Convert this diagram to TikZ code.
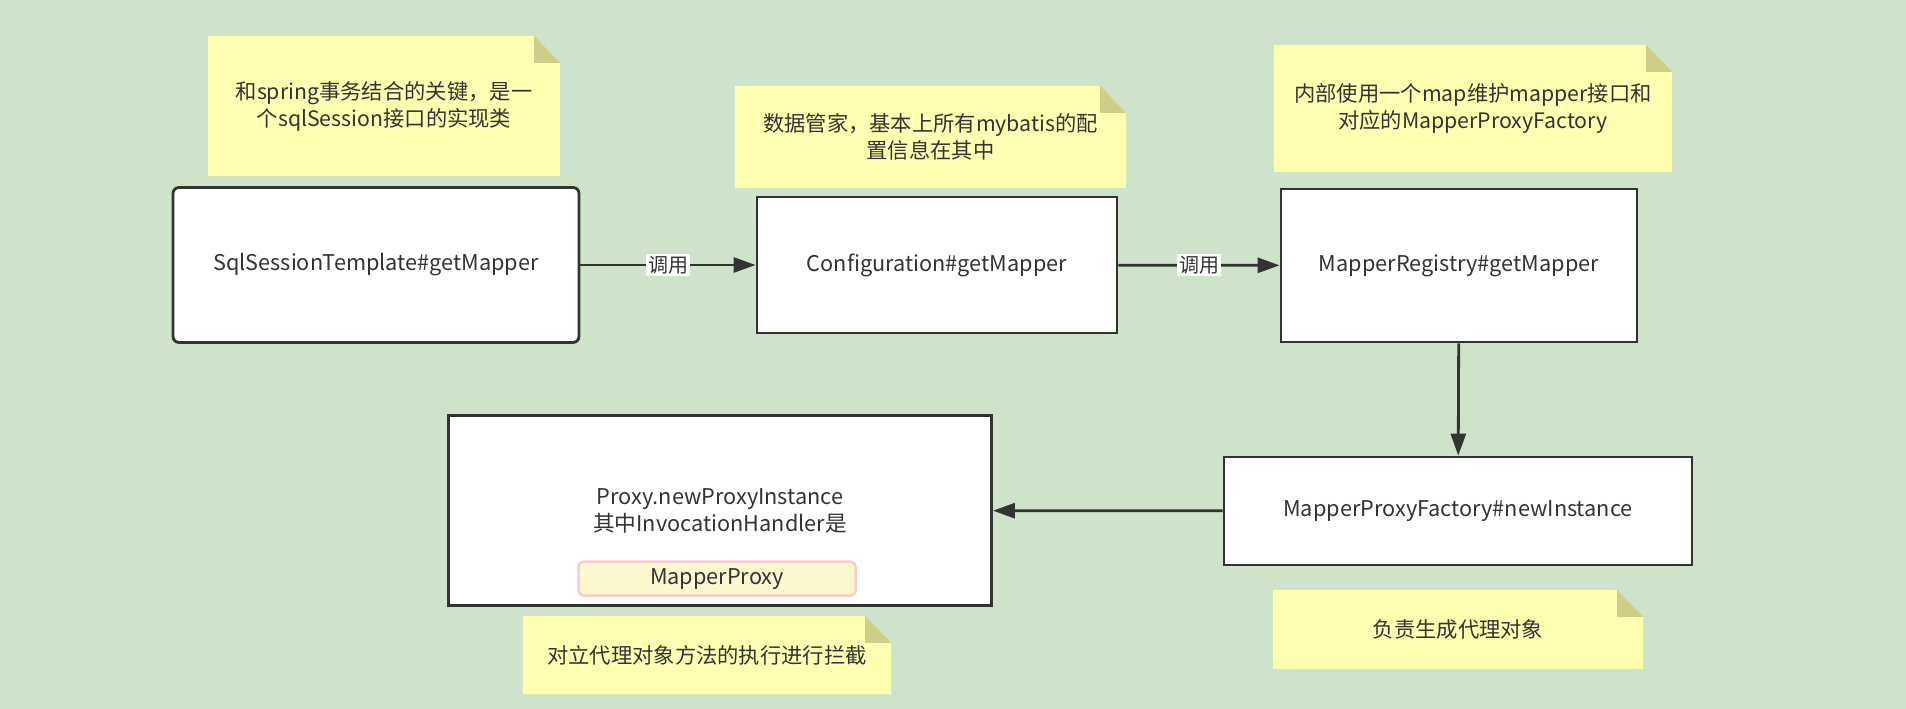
\documentclass[tikz,border=0pt]{standalone}
\usepackage{fontspec}
\setmainfont{Noto Sans CJK SC}
\usetikzlibrary{arrows.meta,backgrounds}
\definecolor{bg}{RGB}{206,227,202}
\definecolor{notefill}{RGB}{255,255,178}
\definecolor{notefold}{RGB}{206,206,134}
\definecolor{ink}{RGB}{51,51,51}
\definecolor{mpfill}{RGB}{252,248,206}
\definecolor{mpline}{RGB}{246,206,206}
\tikzset{
  box/.style={draw=ink, line width=2.8pt, fill=white, text=ink, align=center, font=\fontsize{21.7pt}{27pt}\selectfont, inner sep=0pt},
  note/.style={text=ink, align=center, font=\fontsize{21.3pt}{27pt}\selectfont, inner sep=0pt},
  conn/.style={draw=ink, line width=2.8pt, -{Triangle[length=22pt,width=15pt]}},
  lbl/.style={fill=white, text=ink, font=\fontsize{20pt}{24pt}\selectfont, inner sep=2pt}
}
\newcommand{\notebg}[1]{%
  \fill[notefill] (#1.north west) -- ([xshift=-26pt]#1.north east) -- ([yshift=-27pt]#1.north east) -- (#1.south east) -- (#1.south west) -- cycle;
  \fill[notefold] ([xshift=-26pt]#1.north east) -- ([xshift=-26pt,yshift=-27pt]#1.north east) -- ([yshift=-27pt]#1.north east) -- cycle;}
\begin{document}
\begin{tikzpicture}[x=1pt,y=-1pt]
\useasboundingbox (0,0) rectangle (1906,709);
% notes
\node[note, minimum width=352pt, minimum height=140pt] (n1) at (384,106) {和spring事务结合的关键，是一\\个sqlSession接口的实现类};
\node[note, minimum width=391pt, minimum height=102pt] (n2) at (930.5,137) {数据管家，基本上所有mybatis的配\\置信息在其中};
\node[note, minimum width=398pt, minimum height=127pt] (n3) at (1473,108.5) {内部使用一个map维护mapper接口和\\对应的MapperProxyFactory};
\node[note, minimum width=370pt, minimum height=79pt] (n4) at (1458,629.5) {负责生成代理对象};
\node[note, minimum width=368pt, minimum height=78pt] (n5) at (707,655) {对立代理对象方法的执行进行拦截};
% boxes
\node[box, rounded corners=6pt, minimum width=406pt, minimum height=155pt] (b1) at (376,265) {SqlSessionTemplate\#getMapper};
\node[box, minimum width=360pt, minimum height=136pt] (b2) at (937,265) {Configuration\#getMapper};
\node[box, minimum width=356pt, minimum height=153pt] (b3) at (1459,265.5) {MapperRegistry\#getMapper};
\node[box, minimum width=468pt, minimum height=108pt] (b4) at (1458,511) {MapperProxyFactory\#newInstance};
\node[box, minimum width=543pt, minimum height=190pt] (b5) at (720,510.5) {Proxy.newProxyInstance\\其中InvocationHandler是};
\node[box, draw=mpline, fill=mpfill, line width=2.5pt, rounded corners=5pt, minimum width=277pt, minimum height=34pt] (mp) at (717,578.6) {MapperProxy};
% backgrounds
\begin{scope}[on background layer]
\fill[bg] (0,0) rectangle (1906,709);
\notebg{n1}
\notebg{n2}
\notebg{n3}
\notebg{n4}
\notebg{n5}
\end{scope}
% connectors
\draw[conn] (b1) -- node[lbl] (l1) {调用} (b2);
\draw[conn] (b2) -- node[lbl] (l2) {调用} (b3);
\draw[conn] (b3) -- (b4);
\draw[conn] (b4) -- (b5);
\end{tikzpicture}
\end{document}
